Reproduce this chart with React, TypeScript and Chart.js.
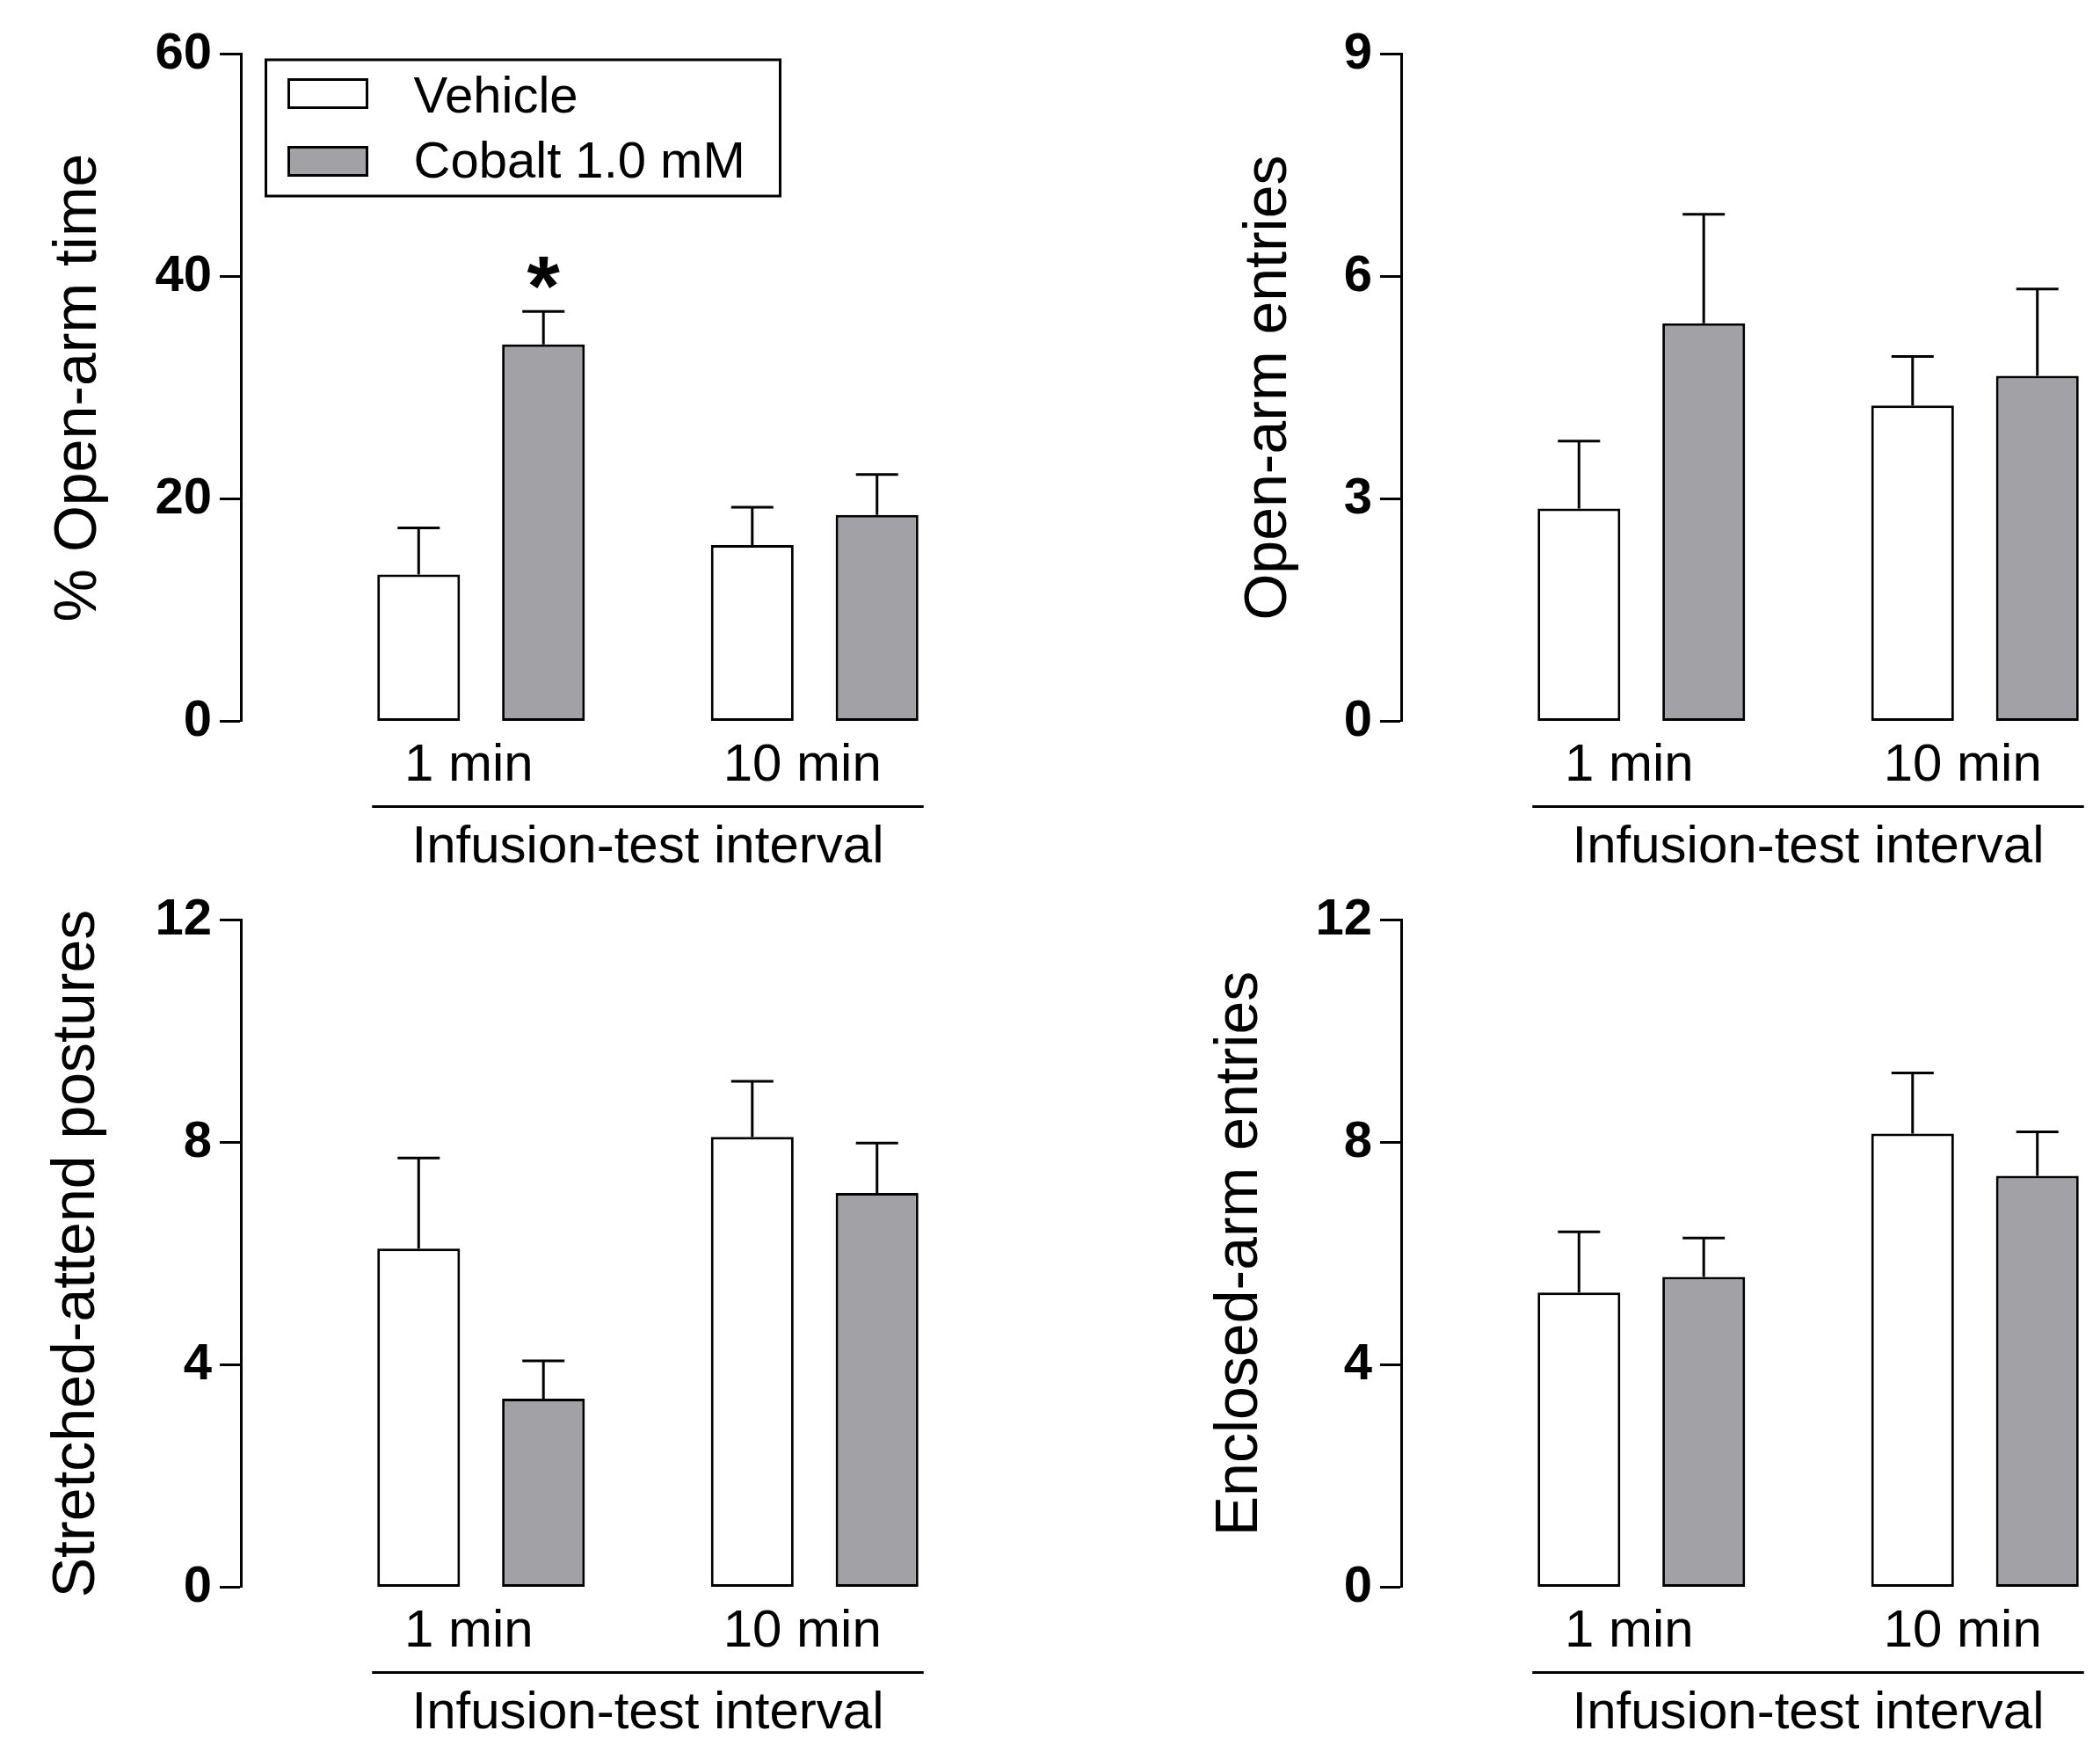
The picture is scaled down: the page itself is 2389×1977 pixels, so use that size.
import React, { useEffect, useRef } from 'react';
import { Chart, registerables } from 'chart.js';

Chart.register(...registerables);

const FONT = '"Liberation Sans", Arial, Helvetica, sans-serif';
Chart.defaults.font.family = FONT;
Chart.defaults.color = '#000';

// ---------------- data ----------------
const intervalLabels = ['1 min', '10 min'];
const intervalPositions = [1, 2];
const seriesNames = ['Vehicle', 'Cobalt 1.0 mM'];
const seriesColors = ['#ffffff', '#a2a1a6'];
const xAxisTitle = 'Infusion-test interval';

const openTimeTicks = [0, 20, 40, 60];
const openTimeVehicle = [13.2, 15.85];
const openTimeVehicleSem = [4.2, 3.4];
const openTimeCobalt = [33.9, 18.55];
const openTimeCobaltSem = [2.95, 3.65];
const openTimeCobaltMarks = ['*', ''];

const openEntriesTicks = [0, 3, 6, 9];
const openEntriesVehicle = [2.87, 4.26];
const openEntriesVehicleSem = [0.91, 0.66];
const openEntriesCobalt = [5.37, 4.66];
const openEntriesCobaltSem = [1.47, 1.17];

const stretchedTicks = [0, 4, 8, 12];
const stretchedVehicle = [6.09, 8.1];
const stretchedVehicleSem = [1.63, 1.0];
const stretchedCobalt = [3.39, 7.09];
const stretchedCobaltSem = [0.68, 0.9];

const enclosedTicks = [0, 4, 8, 12];
const enclosedVehicle = [5.3, 8.16];
const enclosedVehicleSem = [1.09, 1.09];
const enclosedCobalt = [5.58, 7.4];
const enclosedCobaltSem = [0.7, 0.79];

// ---------------- layout ----------------
const CANVAS_W = 1320;
const CANVAS_H = 1000;
const AXIS_X = 274;
const CHART_TOP = 61.5;
const CHART_BOTTOM = 820.5;
const CHART_RIGHT = 1200;
const X_SCALE_H = 180;

type PanelCfg = {
  title: string;
  titlePad: number;
  ticks: number[];
  vehicle: number[];
  vehicleSem: number[];
  cobalt: number[];
  cobaltSem: number[];
  cobaltMarks?: string[];
  legend?: boolean;
  left: number;
  top: number;
};

const panels: PanelCfg[] = [
  { title: '% Open-arm time', titlePad: 49, ticks: openTimeTicks, vehicle: openTimeVehicle, vehicleSem: openTimeVehicleSem, cobalt: openTimeCobalt, cobaltSem: openTimeCobaltSem, cobaltMarks: openTimeCobaltMarks, legend: true, left: 0, top: 0 },
  { title: 'Open-arm entries', titlePad: 83, ticks: openEntriesTicks, vehicle: openEntriesVehicle, vehicleSem: openEntriesVehicleSem, cobalt: openEntriesCobalt, cobaltSem: openEntriesCobaltSem, left: 1320, top: 0 },
  { title: 'Stretched-attend postures', titlePad: 47, ticks: stretchedTicks, vehicle: stretchedVehicle, vehicleSem: stretchedVehicleSem, cobalt: stretchedCobalt, cobaltSem: stretchedCobaltSem, left: 0, top: 985 },
  { title: 'Enclosed-arm entries', titlePad: 50, ticks: enclosedTicks, vehicle: enclosedVehicle, vehicleSem: enclosedVehicleSem, cobalt: enclosedCobalt, cobaltSem: enclosedCobaltSem, left: 1320, top: 985 },
];

// ---------------- plugins ----------------
const errorBarPlugin = {
  id: 'errorBars',
  afterDatasetsDraw(chart: any) {
    const ctx = chart.ctx;
    const yScale = chart.scales.y;
    chart.data.datasets.forEach((ds: any, di: number) => {
      const meta = chart.getDatasetMeta(di);
      meta.data.forEach((bar: any, i: number) => {
        const v = ds.data[i].y;
        const e = ds.sem[i];
        const yTop = yScale.getPixelForValue(v + e);
        const yBar = yScale.getPixelForValue(v);
        ctx.save();
        ctx.strokeStyle = '#000';
        ctx.lineWidth = 3;
        ctx.beginPath();
        ctx.moveTo(bar.x, yBar);
        ctx.lineTo(bar.x, yTop);
        ctx.moveTo(bar.x - 24, yTop);
        ctx.lineTo(bar.x + 24, yTop);
        ctx.stroke();
        const mark = ds.marks ? ds.marks[i] : '';
        if (mark) {
          ctx.font = `bold 96px ${FONT}`;
          ctx.fillStyle = '#000';
          ctx.textAlign = 'center';
          ctx.textBaseline = 'alphabetic';
          const m = ctx.measureText(mark);
          const inkCenter = (m.actualBoundingBoxAscent - m.actualBoundingBoxDescent) / 2;
          const targetCenter = yTop - 44;
          ctx.fillText(mark, bar.x, targetCenter + inkCenter);
        }
        ctx.restore();
      });
    });
  },
};

const underlinePlugin = {
  id: 'underline',
  afterDraw(chart: any) {
    const ctx = chart.ctx;
    const xs = chart.scales.x;
    const x1 = xs.getPixelForValue(intervalPositions[0]) - 124;
    const x2 = xs.getPixelForValue(intervalPositions[intervalPositions.length - 1]) + 124;
    const y = chart.chartArea.bottom + 97;
    ctx.save();
    ctx.strokeStyle = '#000';
    ctx.lineWidth = 3;
    ctx.beginPath();
    ctx.moveTo(x1, y);
    ctx.lineTo(x2, y);
    ctx.stroke();
    ctx.restore();
  },
};

const boxLegendPlugin = {
  id: 'boxLegend',
  afterDraw(chart: any) {
    if (!chart.options.plugins.boxLegend || !chart.options.plugins.boxLegend.show) return;
    const ctx = chart.ctx;
    const { left, top } = chart.chartArea;
    const bx = left + 27;
    const by = top + 5;
    const bw = 588;
    const bh = 158;
    ctx.save();
    ctx.strokeStyle = '#000';
    ctx.lineWidth = 3;
    ctx.strokeRect(bx + 1.5, by + 1.5, bw - 3, bh - 3);
    const rowsY = [top + 27.5, top + 104.5];
    const textY = [top + 50, top + 124];
    chart.data.datasets.forEach((ds: any, i: number) => {
      const sx = left + 53;
      const sy = rowsY[i];
      ctx.fillStyle = ds.backgroundColor;
      ctx.fillRect(sx, sy, 92, 35);
      ctx.strokeRect(sx + 1.5, sy + 1.5, 89, 32);
      ctx.fillStyle = '#000';
      ctx.font = `58px ${FONT}`;
      ctx.textAlign = 'left';
      ctx.textBaseline = 'middle';
      ctx.fillText(ds.label, left + 196.6, textY[i]);
    });
    ctx.restore();
  },
};

function Panel({ cfg }: { cfg: PanelCfg }) {
  const ref = useRef<HTMLCanvasElement | null>(null);
  useEffect(() => {
    if (!ref.current) return;
    const ticks = cfg.ticks;
    const xMin = 0.28;
    const xMax = 2.72;
    const chart = new Chart(ref.current, {
      type: 'bar',
      data: {
        datasets: [
          {
            label: seriesNames[0],
            data: intervalPositions.map((x, i) => ({ x, y: cfg.vehicle[i] })),
            backgroundColor: seriesColors[0],
            borderColor: '#000',
            borderWidth: 3,
            borderSkipped: false,
            categoryPercentage: 0.748,
            barPercentage: 0.663,
            sem: cfg.vehicleSem,
          } as any,
          {
            label: seriesNames[1],
            data: intervalPositions.map((x, i) => ({ x, y: cfg.cobalt[i] })),
            backgroundColor: seriesColors[1],
            borderColor: '#000',
            borderWidth: 3,
            borderSkipped: false,
            categoryPercentage: 0.748,
            barPercentage: 0.663,
            sem: cfg.cobaltSem,
            marks: cfg.cobaltMarks,
          } as any,
        ],
      },
      options: {
        animation: false,
        responsive: false,
        devicePixelRatio: 1,
        layout: { padding: { left: 0, top: CHART_TOP, right: CANVAS_W - CHART_RIGHT, bottom: CANVAS_H - CHART_BOTTOM - X_SCALE_H } },
        plugins: {
          legend: { display: false },
          tooltip: { enabled: false },
          boxLegend: { show: !!cfg.legend },
        } as any,
        scales: {
          x: {
            type: 'linear',
            min: xMin,
            max: xMax,
            offset: false,
            grid: { display: false },
            border: { display: false },
            afterBuildTicks: (scale: any) => {
              scale.ticks = intervalPositions.map((v) => ({ value: v }));
            },
            afterFit: (scale: any) => {
              scale.height = X_SCALE_H;
            },
            ticks: {
              font: { size: 60, family: FONT },
              color: '#000',
              padding: 7,
              maxRotation: 0,
              autoSkip: false,
              labelOffset: -14,
              callback: (_v: any, i: number) => intervalLabels[i],
            },
            title: {
              display: true,
              text: xAxisTitle,
              font: { size: 60, family: FONT },
              color: '#000',
              padding: { top: 29, bottom: 0 },
            },
          },
          y: {
            min: ticks[0],
            max: ticks[ticks.length - 1],
            afterBuildTicks: (scale: any) => {
              scale.ticks = ticks.map((v) => ({ value: v }));
            },
            afterFit: (scale: any) => {
              scale.width = AXIS_X;
            },
            grid: {
              display: true,
              drawOnChartArea: false,
              drawTicks: true,
              tickLength: 24,
              tickWidth: 3,
              tickColor: '#000',
            },
            border: { display: true, color: '#000', width: 3 },
            ticks: {
              font: { size: 58, weight: 'bold', family: FONT },
              color: '#000',
              padding: 9,
            },
            title: {
              display: true,
              text: cfg.title,
              font: { size: 68, family: FONT },
              color: '#000',
              padding: { top: cfg.titlePad, bottom: 0 },
            },
          },
        },
      } as any,
      plugins: [errorBarPlugin, underlinePlugin, boxLegendPlugin],
    });
    return () => chart.destroy();
  }, [cfg]);
  return (
    <canvas
      ref={ref}
      width={CANVAS_W}
      height={CANVAS_H}
      style={{ position: 'absolute', left: cfg.left, top: cfg.top, width: CANVAS_W, height: CANVAS_H }}
    />
  );
}

export default function App() {
  return (
    <div
      style={{
        position: 'absolute',
        left: 0,
        top: 0,
        width: 2389,
        height: 1977,
        overflow: 'hidden',
        background: '#ffffff',
      }}
    >
      {panels.map((p, i) => (
        <Panel key={i} cfg={p} />
      ))}
    </div>
  );
}
